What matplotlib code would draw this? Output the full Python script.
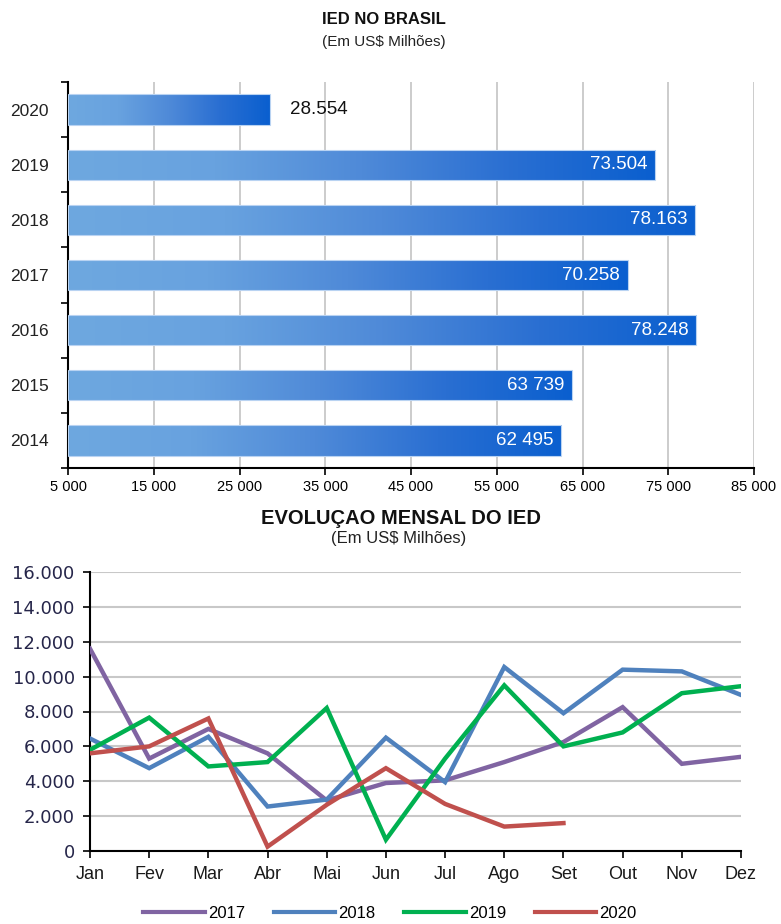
import numpy as np
import matplotlib
matplotlib.use("Agg")
import matplotlib.pyplot as plt
from matplotlib.colors import LinearSegmentedColormap
from matplotlib.ticker import FuncFormatter

NARROW = ["Liberation Sans Narrow", "Liberation Sans", "DejaVu Sans"]
ARIAL = ["Liberation Sans", "DejaVu Sans"]

# Annual FDI (US$ millions)
years = ["2014", "2015", "2016", "2017", "2018", "2019", "2020"]
annual = [62495, 63739, 78248, 70258, 78163, 73504, 28554]
annual_labels = ["62 495", "63 739", "78.248", "70.258", "78.163", "73.504", "28.554"]
x_ticks = [5000, 15000, 25000, 35000, 45000, 55000, 65000, 75000, 85000]

# Monthly FDI (US$ millions)
months = ["Jan", "Fev", "Mar", "Abr", "Mai", "Jun", "Jul", "Ago", "Set", "Out", "Nov", "Dez"]
ied_2017 = [11600, 5300, 7000, 5600, 2900, 3900, 4050, 5100, 6250, 8250, 5000, 5400]
ied_2018 = [6450, 4750, 6550, 2550, 2950, 6500, 3950, 10550, 7900, 10400, 10300, 8950]
ied_2019 = [5800, 7650, 4850, 5100, 8200, 650, 5300, 9500, 6000, 6800, 9050, 9450]
ied_2020 = [5600, 6000, 7600, 250, 2650, 4750, 2700, 1400, 1600]
series = [("2017", ied_2017, "#8064a2"), ("2018", ied_2018, "#4f81bd"),
          ("2019", ied_2019, "#00b050"), ("2020", ied_2020, "#c0504d")]
y_ticks = [0, 2000, 4000, 6000, 8000, 10000, 12000, 14000, 16000]

fig = plt.figure(figsize=(7.81, 9.24), dpi=100)

# ---------- annual bars ----------
ax1 = fig.add_axes([68 / 781, 1 - 468 / 924, (754 - 68) / 781, (468 - 82) / 924])
base = 5000
pos = np.arange(len(years))
bars = ax1.barh(pos, [v - base for v in annual], left=base, height=0.55,
                facecolor="none", edgecolor="#b9d3f2", linewidth=0.8, zorder=3)

grad = LinearSegmentedColormap.from_list(
    "ied_blue", ["#6ea8e0", "#68a2df", "#4f8ad8", "#2a6fd2", "#0a5fcf"])
ramp = np.linspace(0, 1, 256).reshape(1, -1)
for b in bars:
    x0, y0 = b.get_x(), b.get_y()
    im = ax1.imshow(ramp, cmap=grad, aspect="auto", zorder=2,
                    extent=[x0, x0 + b.get_width(), y0, y0 + b.get_height()],
                    interpolation="bilinear")
    im.set_clip_path(b)

for i, (v, lab) in enumerate(zip(annual, annual_labels)):
    if years[i] == "2020":
        ax1.text(v + 2300, i, lab, ha="left", va="center", fontsize=13.5,
                 color="#111111", family=ARIAL, zorder=4)
    else:
        ax1.text(v - 900, i, lab, ha="right", va="center", fontsize=13.5,
                 color="white", family=ARIAL, zorder=4)

ax1.set_xlim(5000, 85000)
ax1.set_ylim(-0.5, len(years) - 0.5)
ax1.set_xticks(x_ticks)
ax1.xaxis.set_major_formatter(FuncFormatter(lambda v, p: f"{int(v):,}".replace(",", " ")))
ax1.set_yticks(pos)
ax1.set_yticklabels(years)
ax1.set_yticks(np.arange(-0.5, len(years), 1), minor=True)
ax1.tick_params(axis="y", which="major", length=0, pad=14, labelsize=12.5)
ax1.tick_params(axis="y", which="minor", length=5, width=1.2, direction="out", color="black")
ax1.tick_params(axis="x", length=5, width=1.2, direction="out", labelsize=10.5, pad=4)
for t in ax1.get_xticklabels():
    t.set_family(NARROW)
for t in ax1.get_yticklabels():
    t.set_family(ARIAL)
    t.set_color("#222222")
ax1.xaxis.grid(True, color="#c8c8c8", linewidth=1.3, zorder=0)
ax1.set_axisbelow(True)
for s in ["top", "right"]:
    ax1.spines[s].set_visible(False)
for s in ["left", "bottom"]:
    ax1.spines[s].set_linewidth(1.5)
    ax1.spines[s].set_color("black")

fig.text(384 / 781, 1 - 20 / 924, "IED NO BRASIL", ha="center", va="center",
         fontsize=12, fontweight="bold", family=ARIAL, color="#111111")
fig.text(384 / 781, 1 - 42 / 924, "(Em US$ Milhões)", ha="center", va="center",
         fontsize=11, family=ARIAL, color="#222222")

# ---------- monthly lines ----------
ax2 = fig.add_axes([90 / 781, 1 - 851 / 924, (741 - 90) / 781, (851 - 572) / 924])
x = np.arange(len(months))
handles = []
for name, vals, col in series:
    h, = ax2.plot(x[:len(vals)], vals, color=col, linewidth=3.2, label=name,
                  solid_joinstyle="miter", zorder=3)
    handles.append(h)

ax2.set_xlim(0, len(months) - 1)
ax2.set_ylim(0, 16000)
ax2.set_xticks(x)
ax2.set_xticklabels(months)
ax2.set_yticks(y_ticks)
ax2.yaxis.set_major_formatter(FuncFormatter(lambda v, p: f"{int(v):,}".replace(",", ".")))
ax2.tick_params(axis="y", length=5, width=1.2, direction="out", labelsize=13, pad=6,
                labelcolor="#26264a")
ax2.tick_params(axis="x", length=5, width=1.2, direction="out", labelsize=13, pad=6,
                labelcolor="#1a1a1a")
for t in ax2.get_xticklabels():
    t.set_family(NARROW)
for t in ax2.get_yticklabels():
    t.set_family(["DejaVu Sans"])
ax2.yaxis.grid(True, color="#c8c8c8", linewidth=1.5, zorder=0)
ax2.set_axisbelow(True)
for s in ["top", "right"]:
    ax2.spines[s].set_visible(False)
for s in ["left", "bottom"]:
    ax2.spines[s].set_linewidth(1.5)
    ax2.spines[s].set_color("black")

fig.text(401 / 781, 1 - 518 / 924, "EVOLUÇAO MENSAL DO IED", ha="center", va="center",
         fontsize=14.5, fontweight="bold", family=ARIAL, color="#111111")
fig.text(399 / 781, 1 - 538 / 924, "(Em US$ Milhões)", ha="center", va="center",
         fontsize=12, family=ARIAL, color="#222222")

leg = fig.legend(handles=handles, loc="center", bbox_to_anchor=(390 / 781, 1 - 913 / 924),
                 ncol=4, frameon=False, handlelength=3.7, handletextpad=0.2,
                 columnspacing=1.7, prop={"family": NARROW, "size": 12})
for ln in leg.get_lines():
    ln.set_linewidth(3)

fig.savefig("out.png", dpi=100)
